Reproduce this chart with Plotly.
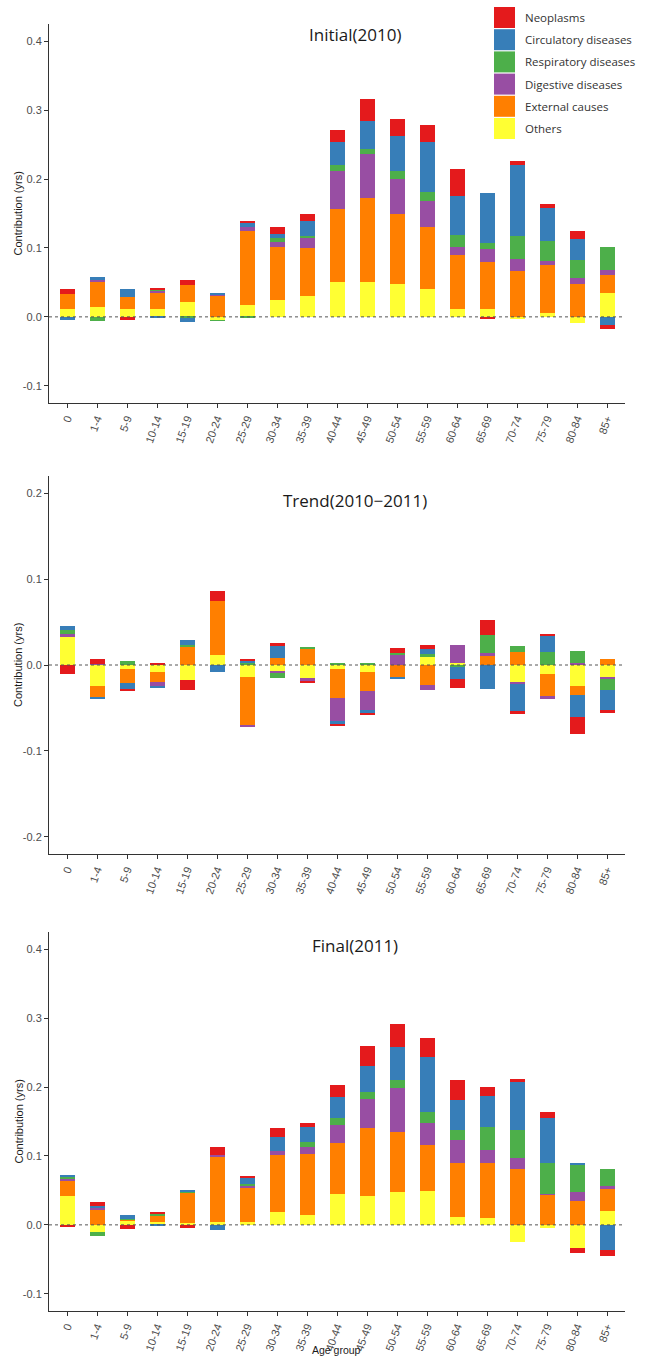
import plotly.graph_objects as go

# ---- data -------------------------------------------------------------
age_groups = ["0", "1-4", "5-9", "10-14", "15-19", "20-24", "25-29", "30-34", "35-39",
              "40-44", "45-49", "50-54", "55-59", "60-64", "65-69", "70-74", "75-79",
              "80-84", "85+"]

causes = ["Neoplasms", "Circulatory diseases", "Respiratory diseases",
          "Digestive diseases", "External causes", "Others"]
cause_colors = ["#E41A1C", "#377EB8", "#4DAF4A", "#984EA3", "#FF7F00", "#FFFF33"]

# Initial (2010)
init_neoplasms = [0.007, 0, -0.005, 0.002, 0.008, 0, 0.002, 0.010, 0.011, 0.018, 0.0328,
                  0.026, 0.025, 0.039, -0.003, 0.0063, 0.0058, 0.0116, -0.0048]
init_circulatory = [-0.004, 0.005, 0.012, -0.001, -0.006, 0.002, 0.006, 0.006, 0.0206, 0.033,
                    0.040, 0.050, 0.0716, 0.0574, 0.0725, 0.103, 0.048, 0.0295, -0.0121]
init_respiratory = [0, -0.006, 0, 0.002, -0.001, -0.001, -0.001, 0.006, 0.003, 0.0092, 0.0078,
                    0.0116, 0.0136, 0.017, 0.0096, 0.0324, 0.0294, 0.0275, 0.0343]
init_digestive = [0, 0.003, 0, 0.004, 0, 0.002, 0.007, 0.007, 0.0155, 0.0546, 0.0642, 0.0512,
                  0.038, 0.0116, 0.0184, 0.0174, 0.0058, 0.0087, 0.0072]
init_external = [0.022, 0.035, 0.0165, 0.022, 0.025, 0.031, 0.107, 0.076, 0.0695, 0.106, 0.121,
                 0.101, 0.090, 0.079, 0.0675, 0.067, 0.0695, 0.047, 0.0256]
init_others = [0.011, 0.015, 0.012, 0.012, 0.021, -0.005, 0.017, 0.025, 0.030, 0.051, 0.051,
               0.048, 0.040, 0.011, 0.012, -0.0025, 0.006, -0.009, 0.035]

# Trend (2010-2011)
trend_neoplasms = [-0.0101, 0.0054, -0.0015, 0.002, -0.0113, 0.0116, 0.002, 0.0035, -0.0031,
                   -0.0012, -0.0031, 0.0066, 0.0043, -0.0104, 0.0174, -0.0031, 0.0027, -0.0193,
                   -0.0039]
trend_circulatory = [0.0046, -0.0024, -0.0078, -0.001, 0.0051, -0.0078, 0.003, 0.014, 0,
                     -0.0039, -0.0027, -0.002, 0.0058, -0.0147, -0.0279, -0.0322, 0.0178,
                     -0.026, -0.0232]
trend_respiratory = [0.0043, 0, 0.0047, 0, 0.0031, 0, 0.002, -0.0062, 0.0031, 0.0016, 0.002,
                     0.0016, 0.0043, -0.002, 0.0217, 0.007, 0.0155, 0.0136, -0.012]
trend_digestive = [0.0042, 0.0015, 0, -0.0058, 0, 0, -0.0023, -0.0027, -0.0035, -0.0271,
                   -0.0225, 0.012, -0.0062, 0.0209, 0.002, -0.0015, -0.0035, 0.0027, -0.002]
trend_external = [0, -0.0136, -0.0162, -0.0116, 0.0205, 0.0628, -0.0566, 0.0078, 0.0182,
                  -0.0333, -0.0224, -0.0147, -0.0233, 0, 0.0116, 0.0151, -0.0259, -0.0109,
                  0.0066]
trend_others = [0.0322, -0.024, -0.0047, -0.0078, -0.0174, 0.012, -0.0136, -0.0066, -0.0147,
                -0.0047, -0.0078, 0, 0.0089, 0.002, 0, -0.0202, -0.0105, -0.024, -0.0147]

# Final (2011)
final_neoplasms = [-0.003, 0.0053, -0.0053, 0.0034, -0.0044, 0.0121, 0.0034, 0.0131, 0.0063,
                   0.0174, 0.0291, 0.0334, 0.0286, 0.0281, 0.0136, 0.0034, 0.0078, -0.0068,
                   -0.0088]
final_circulatory = [0.0015, 0.0034, 0.0048, -0.002, 0.001, -0.0068, 0.0082, 0.0204, 0.0218,
                     0.0301, 0.0378, 0.0484, 0.0789, 0.0441, 0.0455, 0.0702, 0.0658, 0.0029,
                     -0.0358]
final_respiratory = [0.0044, -0.0063, 0.0009, 0.0024, 0.0014, 0, 0.0015, 0, 0.0073, 0.0101,
                     0.0096, 0.0121, 0.017, 0.0145, 0.0324, 0.0402, 0.0441, 0.0397, 0.0233]
final_digestive = [0.0029, 0.0029, 0, 0, 0, 0.001, 0.0048, 0.0048, 0.0101, 0.0267, 0.0427,
                   0.064, 0.0315, 0.0334, 0.0194, 0.0159, 0.0019, 0.0126, 0.0053]
final_external = [0.0218, 0.0213, 0.0015, 0.0092, 0.0451, 0.095, 0.0489, 0.0833, 0.0887,
                  0.0731, 0.0983, 0.0866, 0.0663, 0.0775, 0.0794, 0.0814, 0.0436, 0.0344,
                  0.0319]
final_others = [0.0416, -0.0097, 0.0068, 0.0044, 0.0024, 0.0048, 0.0039, 0.0184, 0.014, 0.0455,
                0.0421, 0.0475, 0.0494, 0.0121, 0.0102, -0.0242, -0.0039, -0.0334, 0.0199]

# y tick labels
level_ticks = [-0.1, 0.0, 0.1, 0.2, 0.3, 0.4]
level_ticktext = ["-0.1", "0.0", "0.1", "0.2", "0.3", "0.4"]
trend_ticks = [-0.2, -0.1, 0.0, 0.1, 0.2]
trend_ticktext = ["-0.2", "-0.1", "0.0", "0.1", "0.2"]

# ---- layout geometry (pixels) ----------------------------------------
W, H = 645, 1357
PLOT_LEFT, PLOT_RIGHT = 49, 625


def fx(p):
    return p / W


def fy(p):
    return 1 - p / H


panels = [
    dict(title="Initial(2010)", title_y=34, top=24, bottom=403,
         yrange=[-0.125, 0.425], tickvals=level_ticks, ticktext=level_ticktext,
         series=[init_neoplasms, init_circulatory, init_respiratory,
                 init_digestive, init_external, init_others]),
    dict(title="Trend(2010\u22122011)", title_y=500, top=476, bottom=854,
         yrange=[-0.22, 0.22], tickvals=trend_ticks, ticktext=trend_ticktext,
         series=[trend_neoplasms, trend_circulatory, trend_respiratory,
                 trend_digestive, trend_external, trend_others]),
    dict(title="Final(2011)", title_y=945, top=932, bottom=1311,
         yrange=[-0.125, 0.425], tickvals=level_ticks, ticktext=level_ticktext,
         series=[final_neoplasms, final_circulatory, final_respiratory,
                 final_digestive, final_external, final_others]),
]

TICK_FONT = dict(family="Liberation Sans, Arial, sans-serif", size=11, color="#4D4D4D")
TEXT_FONT = "Open Sans, Noto Sans, sans-serif"

fig = go.Figure()
annotations = []
shapes = []
layout_axes = {}

for k, panel in enumerate(panels):
    suffix = "" if k == 0 else str(k + 1)
    xref, yref = "x" + suffix, "y" + suffix

    # stacked from the zero line outward: Others first, Neoplasms last
    for name, color, values in reversed(list(zip(causes, cause_colors, panel["series"]))):
        fig.add_trace(go.Bar(
            x=age_groups, y=values, name=name, width=0.5,
            marker=dict(color=color, line=dict(width=0)),
            xaxis=xref, yaxis=yref, showlegend=False,
        ))

    layout_axes["xaxis" + suffix] = dict(
        domain=[fx(PLOT_LEFT), fx(PLOT_RIGHT)], anchor=yref,
        type="category", categoryorder="array", categoryarray=age_groups,
        range=[-0.6, len(age_groups) - 0.4],
        showline=True, linecolor="#333333", linewidth=1,
        ticks="outside", ticklen=4, tickcolor="#333333", tickwidth=1,
        tickangle=-70, tickfont=TICK_FONT, showgrid=False, zeroline=False,
        automargin=False, fixedrange=True,
    )
    layout_axes["yaxis" + suffix] = dict(
        domain=[fy(panel["bottom"]), fy(panel["top"])], anchor=xref,
        range=panel["yrange"], tickvals=panel["tickvals"], ticktext=panel["ticktext"],
        showline=True, linecolor="#333333", linewidth=1,
        ticks="outside", ticklen=4, tickcolor="#333333", tickwidth=1,
        tickfont=TICK_FONT, showgrid=False, zeroline=False,
        automargin=False, fixedrange=True,
    )

    # dotted reference line at zero
    shapes.append(dict(type="line", xref=xref + " domain", yref=yref,
                       x0=0, x1=1, y0=0, y1=0,
                       line=dict(color="#555555", width=1, dash="dot")))

    # panel title
    annotations.append(dict(text=panel["title"], xref="paper", yref="paper",
                            x=fx(354.5), y=fy(panel["title_y"]), showarrow=False,
                            xanchor="center", yanchor="middle",
                            font=dict(family=TEXT_FONT, size=17, color="#1A1A1A")))

    # y axis title
    annotations.append(dict(text="Contribution (yrs)", xref="paper", yref="paper",
                            x=fx(18), y=fy((panel["top"] + panel["bottom"]) / 2),
                            textangle=-90, showarrow=False,
                            xanchor="center", yanchor="middle",
                            font=dict(family="Liberation Sans, Arial, sans-serif",
                                      size=11, color="#1A1A1A")))

# x axis title under the last panel
annotations.append(dict(text="Age group", xref="paper", yref="paper",
                        x=fx((PLOT_LEFT + PLOT_RIGHT) / 2), y=0,
                        showarrow=False, xanchor="center", yanchor="bottom",
                        borderpad=0,
                        font=dict(family="Liberation Sans, Arial, sans-serif",
                                  size=10.5, color="#1A1A1A")))

# legend: coloured keys with labels, top right
KEY_LEFT, KEY_W, KEY_H, KEY_TOP, KEY_STEP = 494, 21, 21, 7, 22.2
for i, (name, color) in enumerate(zip(causes, cause_colors)):
    top = KEY_TOP + i * KEY_STEP
    shapes.append(dict(type="rect", xref="paper", yref="paper",
                       x0=fx(KEY_LEFT), x1=fx(KEY_LEFT + KEY_W),
                       y0=fy(top + KEY_H), y1=fy(top),
                       fillcolor=color, line=dict(width=0)))
    annotations.append(dict(text=name, xref="paper", yref="paper",
                            x=fx(523), y=fy(top + KEY_H / 2), showarrow=False,
                            xanchor="left", yanchor="middle",
                            font=dict(family=TEXT_FONT, size=11.5, color="#333333")))

fig.update_layout(
    width=W, height=H,
    margin=dict(l=0, r=0, t=0, b=0),
    paper_bgcolor="white", plot_bgcolor="white",
    barmode="relative", bargap=0,
    showlegend=False,
    annotations=annotations, shapes=shapes,
    **layout_axes,
)

fig.write_html("out.html")
